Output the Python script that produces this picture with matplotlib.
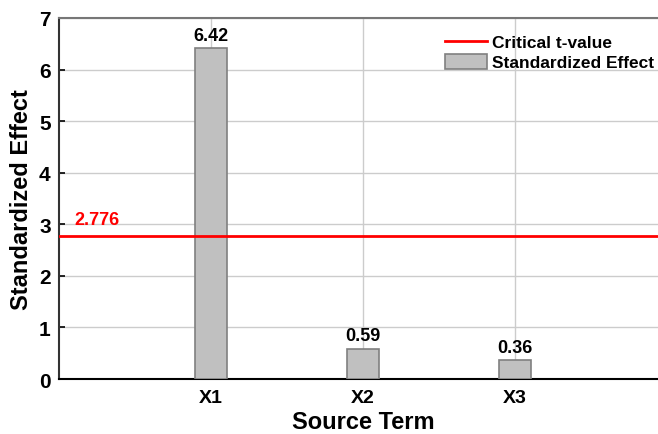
import matplotlib.pyplot as plt

plt.rcParams['font.family'] = ['Liberation Sans', 'DejaVu Sans']
plt.rcParams['font.weight'] = 'bold'

# data
terms = ['X1', 'X2', 'X3']
effects = [6.42, 0.59, 0.36]
critical_t = 2.776

fig = plt.figure(figsize=(6.58, 4.35), dpi=100)
# axes runs a bit past the right edge like in the original
ax = fig.add_axes([59 / 658, 1 - 380 / 435, 608 / 658, 361 / 435])

pos = [1, 2, 3]
ax.bar(pos, effects, width=0.21, color='#c0c0c0', edgecolor='#808080',
       linewidth=1.2, label='Standardized Effect', zorder=3)
ax.axhline(critical_t, color='red', linewidth=2, label='Critical t-value', zorder=4)

for p, v in zip(pos, effects):
    ax.text(p, v + 0.08, f'{v:.2f}', ha='center', va='bottom', fontsize=13, fontweight='bold')
ax.text(0.1, critical_t + 0.16, f'{critical_t}', color='red', ha='left', va='bottom',
        fontsize=13, fontweight='bold')

ax.set_xlim(0, 4)
ax.set_ylim(0, 7)
ax.set_xticks(pos)
ax.set_xticklabels(terms)
ax.set_yticks(range(0, 8))
ax.tick_params(axis='x', length=0, labelsize=14, pad=7)
ax.tick_params(axis='y', direction='in', length=4, labelsize=15, width=1.2, pad=6)
ax.grid(True, color='#cccccc', linewidth=1, zorder=0)
ax.set_axisbelow(True)

for s in ['top', 'right']:
    ax.spines[s].set_color('#777777')
    ax.spines[s].set_linewidth(1.5)
ax.spines['left'].set_color('#333333')
ax.spines['left'].set_linewidth(1.5)
ax.spines['bottom'].set_color('black')
ax.spines['bottom'].set_linewidth(1.5)

ax.set_xlabel('Source Term', fontsize=17, fontweight='bold', labelpad=3)
ax.set_ylabel('Standardized Effect', fontsize=17, fontweight='bold', labelpad=4)

ax.legend(loc='upper left', bbox_to_anchor=(0.618, 0.985), frameon=False, fontsize=12.5,
          handlelength=2.4, handleheight=0.95, handletextpad=0.3, labelspacing=0.2,
          borderaxespad=0.2)

fig.savefig('out.png', dpi=100)
